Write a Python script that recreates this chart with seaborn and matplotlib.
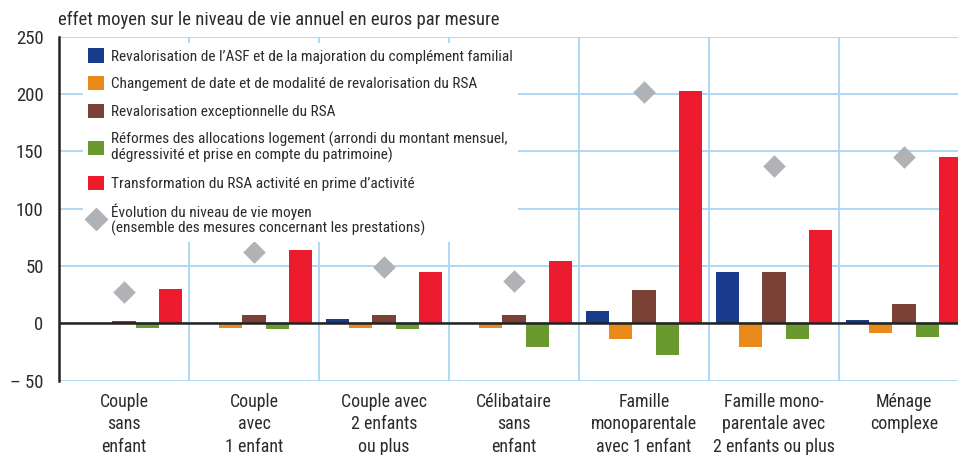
"""
Effet moyen des mesures sur le niveau de vie annuel, par type de ménage
"""
import pandas as pd
import seaborn as sns
import matplotlib.pyplot as plt
from matplotlib.patches import Patch
from matplotlib.lines import Line2D

# data (euros par an)
categories = ["Couple\nsans\nenfant", "Couple\navec\n1 enfant", "Couple avec\n2 enfants\nou plus",
              "Célibataire\nsans\nenfant", "Famille\nmonoparentale\navec 1 enfant",
              "Famille mono-\nparentale avec\n2 enfants ou plus", "Ménage\ncomplexe"]
mesures = ["Revalorisation de l\u2019ASF et de la majoration du complément familial",
           "Changement de date et de modalité de revalorisation du RSA",
           "Revalorisation exceptionnelle du RSA",
           "Réformes des allocations logement (arrondi du montant mensuel,\ndégressivité et prise en compte du patrimoine)",
           "Transformation du RSA activité en prime d\u2019activité"]
asf = [0, 0, 4, 0, 11, 45, 3]
date_rsa = [0, -4, -4, -4, -14, -21, -8]
rsa_excep = [2, 7, 7, 7, 29, 45, 17]
logement = [-4, -5, -5, -21, -28, -14, -12]
prime = [30, 64, 45, 54, 203, 81, 145]
evolution = [27, 62, 49, 37, 202, 137, 145]
evol_label = "Évolution du niveau de vie moyen\n(ensemble des mesures concernant les prestations)"
yticks = [-50, 0, 50, 100, 150, 200, 250]
ytick_labels = ["\u2013 50", "0", "50", "100", "150", "200", "250"]

colors = ["#1a3a8e", "#e98a1b", "#7a4136", "#6a9a2f", "#ec1b2e"]
grey = "#b1b2b5"
grid_c = "#aad6f2"
txt_c = "#2b2b2b"

def main():
    # long table for seaborn
    rows = []
    for m, vals in zip(mesures, [asf, date_rsa, rsa_excep, logement, prime]):
        for c, v in zip(categories, vals):
            rows.append((c, m, v))
    df = pd.DataFrame(rows, columns=["cat", "mesure", "val"])

    sns.set_style("white")
    plt.rcParams["font.family"] = ["Roboto Condensed", "Liberation Sans", "DejaVu Sans"]
    plt.rcParams["text.color"] = txt_c

    fig = plt.figure(figsize=(9.58, 4.55), dpi=100)
    ax = fig.add_axes([59 / 958, 74.3 / 455, 910 / 958, 344 / 455])

    sns.barplot(data=df, x="cat", y="val", hue="mesure", palette=colors, width=0.885,
                saturation=1, legend=False, ax=ax, zorder=3, linewidth=0)
    sns.stripplot(x=categories, y=evolution, marker="D", color=grey, size=11.5,
                  jitter=False, linewidth=0, ax=ax, zorder=4)

    ax.set_xlim(-0.5, 6.5)
    ax.set_ylim(-50, 250)
    ax.set_yticks(yticks)
    ax.set_yticklabels(ytick_labels, fontsize=13.5, color=txt_c)
    ax.set_xticks(range(len(categories)))
    ax.set_xticklabels(categories, fontsize=12.9, color=txt_c, linespacing=1.3)
    ax.tick_params(axis="both", length=0)
    ax.tick_params(axis="y", pad=11)
    ax.tick_params(axis="x", pad=9)
    ax.set_xlabel("")
    ax.set_ylabel("")

    # grid
    for y in yticks:
        ax.axhline(y, color=grid_c, lw=1.3, zorder=0)
    for x in [0.5, 1.5, 2.5, 3.5, 4.5, 5.5]:
        ax.axvline(x, color=grid_c, lw=1.3, zorder=0)
    ax.axhline(0, color="#222222", lw=1.8, zorder=5)
    for s in ["top", "right", "bottom"]:
        ax.spines[s].set_visible(False)
    ax.spines["left"].set_color("#222222")
    ax.spines["left"].set_linewidth(1.8)

    # legend
    handles = [Patch(facecolor=c, edgecolor="none") for c in colors]
    handles.append(Line2D([], [], marker="D", color=grey, linestyle="none", markersize=11.5))
    leg = ax.legend(handles, mesures + [evol_label], loc="upper left",
                    bbox_to_anchor=(0.026, 0.982), fontsize=11.1, frameon=True,
                    handlelength=1.05, handleheight=1.05, handletextpad=0.45,
                    labelspacing=0.8, borderpad=0.35, borderaxespad=0)
    leg.get_frame().set_facecolor("white")
    leg.get_frame().set_edgecolor("none")
    leg.get_frame().set_alpha(1)
    leg.set_zorder(6)
    for t in leg.get_texts():
        t.set_color(txt_c)
        t.set_linespacing(1.1)

    fig.text(58 / 958, 1 - 20 / 455, "effet moyen sur le niveau de vie annuel en euros par mesure",
             fontsize=13.4, color=txt_c, va="center", ha="left")

    fig.savefig("out.png", dpi=100)

if __name__ == "__main__":
    main()
